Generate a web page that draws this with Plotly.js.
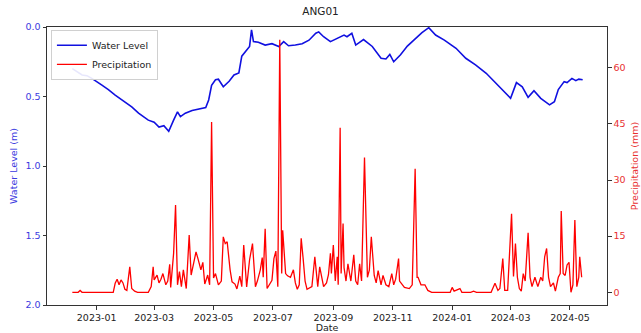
<!DOCTYPE html>
<html>
<head>
<meta charset="utf-8">
<script src="https://cdn.plot.ly/plotly-3.0.1.min.js"></script>
<style>html,body{margin:0;padding:0;background:#fff;}#chart{width:641px;height:333px;}</style>
</head>
<body>
<div id="chart"></div>
<script>
const chartTitle = "ANG01";
const levelName = "Water Level";
const precipName = "Precipitation";

const levelDates = ["2022-12-07","2022-12-12","2022-12-17","2022-12-22","2022-12-27","2023-01-06","2023-01-13","2023-01-20","2023-01-31","2023-02-06","2023-02-13","2023-02-23","2023-03-01","2023-03-06","2023-03-11","2023-03-16","2023-03-21","2023-03-25","2023-03-28","2023-04-02","2023-04-09","2023-04-16","2023-04-23","2023-04-26","2023-04-29","2023-05-03","2023-05-06","2023-05-11","2023-05-17","2023-05-22","2023-05-27","2023-05-30","2023-06-04","2023-06-07","2023-06-09","2023-06-11","2023-06-16","2023-06-23","2023-06-30","2023-07-07","2023-07-12","2023-07-17","2023-07-24","2023-07-31","2023-08-07","2023-08-14","2023-08-17","2023-08-22","2023-08-29","2023-09-05","2023-09-12","2023-09-15","2023-09-20","2023-09-24","2023-10-02","2023-10-11","2023-10-20","2023-10-25","2023-10-29","2023-11-02","2023-11-09","2023-11-16","2023-11-25","2023-12-01","2023-12-08","2023-12-15","2023-12-24","2024-01-05","2024-01-15","2024-01-25","2024-02-05","2024-02-15","2024-02-22","2024-02-25","2024-03-01","2024-03-07","2024-03-13","2024-03-19","2024-03-25","2024-04-01","2024-04-06","2024-04-10","2024-04-15","2024-04-19","2024-04-25","2024-04-28","2024-05-03","2024-05-07","2024-05-10","2024-05-14"];
const levelValues = [0.30,0.32,0.345,0.35,0.37,0.417,0.45,0.49,0.545,0.575,0.62,0.67,0.685,0.72,0.71,0.75,0.67,0.61,0.645,0.62,0.60,0.59,0.58,0.525,0.42,0.38,0.376,0.43,0.39,0.345,0.33,0.21,0.165,0.14,0.02,0.105,0.11,0.13,0.12,0.14,0.105,0.135,0.13,0.12,0.095,0.045,0.035,0.07,0.105,0.08,0.058,0.07,0.045,0.13,0.09,0.14,0.225,0.23,0.197,0.25,0.20,0.137,0.08,0.04,0.005,0.058,0.094,0.153,0.225,0.273,0.333,0.405,0.453,0.47,0.513,0.40,0.43,0.506,0.458,0.513,0.537,0.56,0.537,0.45,0.393,0.40,0.37,0.386,0.375,0.38];

const precipDates = ["2022-12-07","2022-12-13","2022-12-15","2022-12-17","2023-01-18","2023-01-20","2023-01-22","2023-01-24","2023-01-26","2023-01-28","2023-01-30","2023-02-01","2023-02-04","2023-02-06","2023-02-09","2023-02-12","2023-02-23","2023-02-26","2023-02-28","2023-03-01","2023-03-04","2023-03-06","2023-03-08","2023-03-10","2023-03-13","2023-03-15","2023-03-17","2023-03-18","2023-03-21","2023-03-23","2023-03-25","2023-03-27","2023-03-29","2023-03-31","2023-04-03","2023-04-06","2023-04-08","2023-04-10","2023-04-13","2023-04-15","2023-04-18","2023-04-20","2023-04-22","2023-04-25","2023-04-27","2023-04-29","2023-05-01","2023-05-03","2023-05-06","2023-05-09","2023-05-11","2023-05-13","2023-05-15","2023-05-18","2023-05-20","2023-05-23","2023-05-25","2023-05-28","2023-05-30","2023-06-01","2023-06-04","2023-06-07","2023-06-10","2023-06-13","2023-06-15","2023-06-18","2023-06-20","2023-06-21","2023-06-23","2023-06-25","2023-06-28","2023-06-30","2023-07-02","2023-07-04","2023-07-06","2023-07-08","2023-07-10","2023-07-11","2023-07-14","2023-07-16","2023-07-19","2023-07-22","2023-07-24","2023-07-26","2023-07-28","2023-07-30","2023-08-01","2023-08-03","2023-08-05","2023-08-07","2023-08-10","2023-08-13","2023-08-16","2023-08-18","2023-08-22","2023-08-25","2023-08-27","2023-08-29","2023-08-30","2023-09-01","2023-09-03","2023-09-05","2023-09-06","2023-09-08","2023-09-09","2023-09-11","2023-09-12","2023-09-14","2023-09-16","2023-09-19","2023-09-22","2023-09-24","2023-09-26","2023-09-28","2023-09-30","2023-10-03","2023-10-06","2023-10-08","2023-10-10","2023-10-13","2023-10-15","2023-10-17","2023-10-20","2023-10-22","2023-10-25","2023-10-28","2023-10-31","2023-11-02","2023-11-04","2023-11-07","2023-11-08","2023-11-11","2023-11-13","2023-11-18","2023-11-21","2023-11-22","2023-11-24","2023-11-26","2023-11-27","2023-11-30","2023-12-04","2023-12-07","2023-12-11","2023-12-30","2024-01-01","2024-01-03","2024-01-05","2024-01-09","2024-01-11","2024-01-20","2024-01-23","2024-01-26","2024-02-10","2024-02-14","2024-02-17","2024-02-19","2024-02-22","2024-02-24","2024-02-27","2024-03-02","2024-03-04","2024-03-06","2024-03-08","2024-03-10","2024-03-12","2024-03-14","2024-03-16","2024-03-19","2024-03-21","2024-03-23","2024-03-26","2024-03-29","2024-04-01","2024-04-03","2024-04-05","2024-04-07","2024-04-09","2024-04-11","2024-04-14","2024-04-16","2024-04-19","2024-04-21","2024-04-22","2024-04-24","2024-04-26","2024-04-28","2024-04-30","2024-05-02","2024-05-04","2024-05-06","2024-05-08","2024-05-10","2024-05-11","2024-05-13"];
const precipValues = [0,0,0.5,0,0,2.4,3.5,2,3.3,2.5,0.8,0.5,6.8,1,0.3,0,0,1.5,6.8,3.3,4.6,2.5,3.5,5,2,3,7.5,1.3,10.4,23.3,2,5.5,1.5,6,1,15.3,4.6,6.8,10.8,9,6,8,2.2,4.6,2,45.5,3.8,5,2,3,14.8,13,13.5,6,2.8,2.2,0.9,4.3,1.5,12.6,1.4,8.7,13,1.5,3,6,9.3,4,17,1,2.5,3.2,9,11,1.5,67.5,5,16.6,5,4.4,4,6,2.5,0.8,2,14.4,9,3,0.8,1,1.5,9.5,1.5,6.8,1.5,2.5,4.7,10.4,5,12.6,3,9.5,2,44,5,18.4,6.6,3,7.6,3,10,3,2,7.6,3,36,4,6,14.8,4.5,2.5,5.8,2,4.5,2,1.5,5,2,3.5,9,3,2,1.3,1,2,12,33,4,4,2,2,0.5,0,0,1.3,0.3,0.5,1,0,0,0.3,0,0,2.4,0.5,1,9,0.5,0.5,21,4.2,13,4,1,0.3,5,3,15.9,4,1.5,4,1.5,4,3,9.5,11.7,4,1.5,2.5,0.3,4,5,21.7,5,4.5,7.3,8,0,2,19.3,1.5,4,9.5,4];

const levelTicks = [0, 0.5, 1.0, 1.5, 2.0];
const precipTicks = [0, 15, 30, 45, 60];

const font = "DejaVu Sans, sans-serif";

const traces = [
  {x: levelDates, y: levelValues, type: "scatter", mode: "lines", name: levelName,
   line: {color: "#1010e0", width: 1.6}, yaxis: "y"},
  {x: precipDates, y: precipValues, type: "scatter", mode: "lines", name: precipName,
   line: {color: "#ff0000", width: 1.3}, yaxis: "y2"}
];

const layout = {
  width: 641, height: 333,
  margin: {l: 47, r: 34, t: 27, b: 28},
  paper_bgcolor: "#fff", plot_bgcolor: "#fff",
  font: {family: font, size: 9.5, color: "#222"},
  title: {text: chartTitle, font: {family: font, size: 10.5, color: "#222"}, x: 0.5, xanchor: "center", y: 0.965, yanchor: "middle"},
  showlegend: true,
  legend: {x: 0.007, y: 0.99, xanchor: "left", yanchor: "top", bgcolor: "rgba(255,255,255,0.9)",
           bordercolor: "#d0d0d0", borderwidth: 1, font: {family: font, size: 9.5, color: "#222"},
           tracegroupgap: 0, itemwidth: 30},
  xaxis: {
    type: "date", range: ["2022-11-11", "2024-06-08"],
    tickvals: ["2023-01-01","2023-03-01","2023-05-01","2023-07-01","2023-09-01","2023-11-01","2024-01-01","2024-03-01","2024-05-01"],
    tickformat: "%Y-%m", ticks: "outside", ticklen: 3.5, tickcolor: "#333",
    showline: true, linecolor: "#333", linewidth: 1, mirror: true, showgrid: false, zeroline: false,
    tickfont: {family: font, size: 9.5, color: "#222"},
    title: {text: "Date", font: {family: font, size: 9.5, color: "#222"}, standoff: 4}
  },
  yaxis: {
    range: [2.0, 0.0], tickvals: levelTicks, tickformat: ".1f",
    ticks: "outside", ticklen: 3.5, tickcolor: "#333",
    showline: true, linecolor: "#333", linewidth: 1, showgrid: false, zeroline: false,
    tickfont: {family: font, size: 9.5, color: "#3a3ae0"},
    title: {text: "Water Level (m)", font: {family: font, size: 9.5, color: "#3a3ae0"}, standoff: 6}
  },
  yaxis2: {
    overlaying: "y", side: "right", range: [-3.4, 70.9], tickvals: precipTicks,
    ticks: "outside", ticklen: 3.5, tickcolor: "#333",
    showline: true, linecolor: "#333", linewidth: 1, showgrid: false, zeroline: false,
    tickfont: {family: font, size: 9.5, color: "#e83030"},
    title: {text: "Precipitation (mm)", font: {family: font, size: 9.5, color: "#e83030"}, standoff: 6}
  }
};

Plotly.newPlot("chart", traces, layout, {displayModeBar: false, staticPlot: true});
</script>
</body>
</html>
